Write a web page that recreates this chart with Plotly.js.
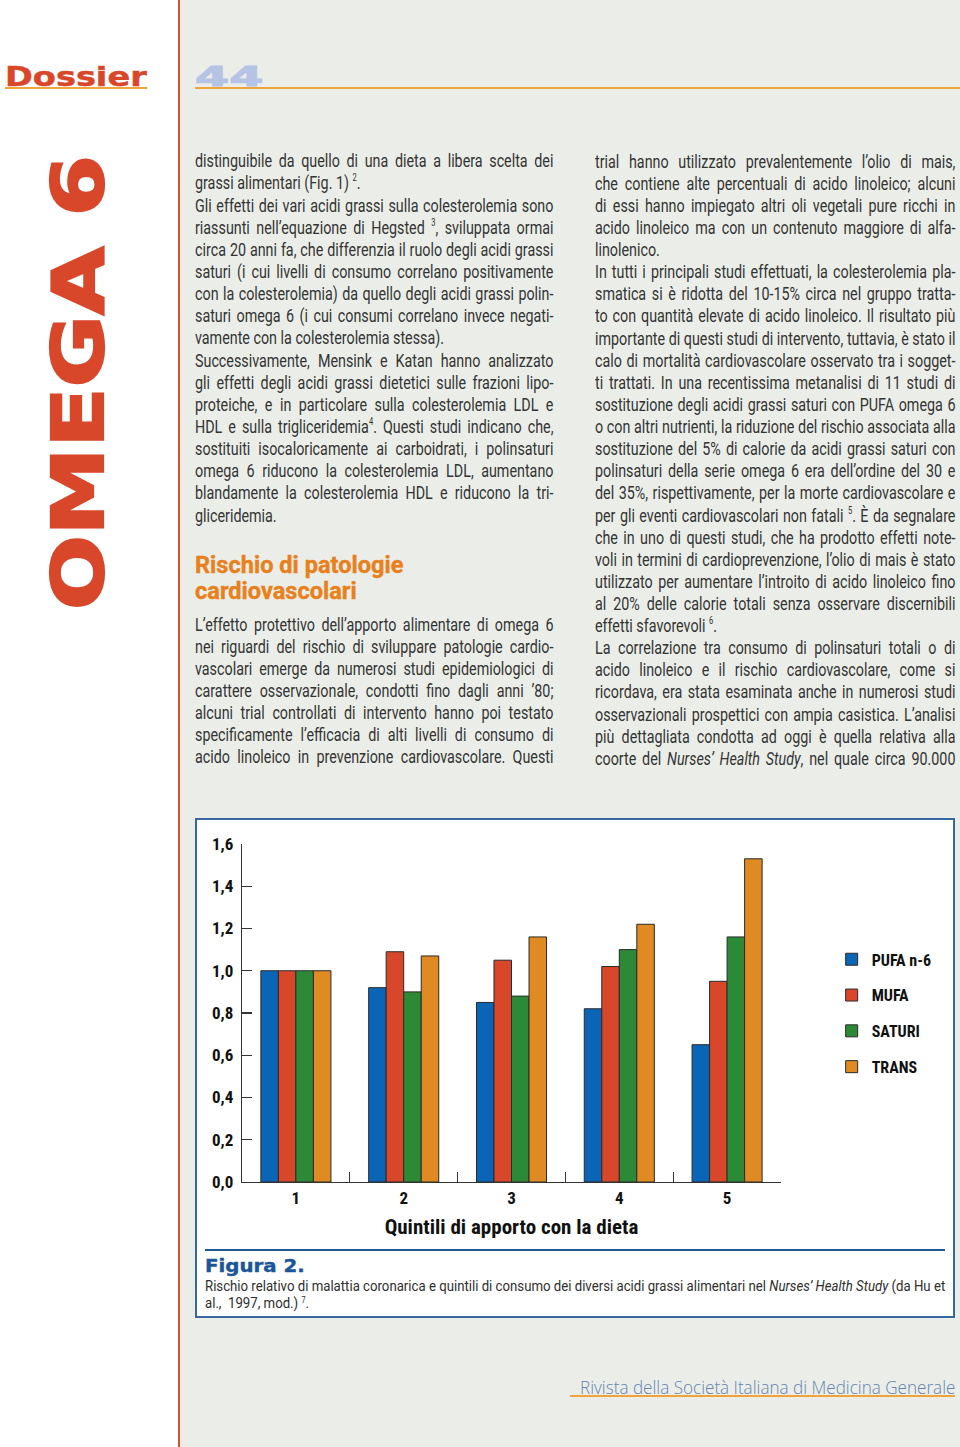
<!DOCTYPE html>
<html><head><meta charset="utf-8">
<script src="https://cdn.plot.ly/plotly-3.0.1.min.js"></script>
<style>
html,body{margin:0;padding:0;}
body{width:960px;height:1447px;position:relative;overflow:hidden;background:#fff;font-family:Roboto,"Liberation Sans",sans-serif;}
.abs{position:absolute;}
.t{position:absolute;left:0;top:0;white-space:nowrap;transform-origin:0 0;}
.body{font-family:Roboto,"Open Sans",sans-serif;font-weight:400;font-size:19px;line-height:20px;color:#333333;}
.cap{font-family:Roboto,"Open Sans",sans-serif;font-weight:400;font-size:15.5px;line-height:15px;color:#2e2e2e;}
sup{font-size:10px;vertical-align:baseline;position:relative;top:-8px;line-height:0;}
.cap sup{font-size:8.5px;top:-5px;}
</style>
</head>
<body>
<div class="abs" style="left:180px;top:0;width:780px;height:1447px;background:#ebeee8;"></div>
<div class="abs" style="left:178px;top:0;width:2px;height:1447px;background:#d6542f;"></div>
<div class="abs" style="left:5px;top:87px;width:142px;height:2px;background:#f0a33a;"></div>
<div class="abs" style="left:195px;top:87px;width:765px;height:2px;background:#f0a33a;"></div>
<div class="abs" style="left:570px;top:1395px;width:385px;height:2px;background:#f0a33a;"></div>
<div class="abs" style="left:195px;top:818px;width:760px;height:500px;border:2px solid #3567a0;box-sizing:border-box;background:#fff;"></div>
<div class="abs" style="left:205px;top:1248px;width:740px;height:3px;background:#1f5a98;"></div>
<div id="chart" class="abs" style="left:197px;top:820px;width:756px;height:429px;"></div>
<script>
// ---- chart data ----
const categories = ['1', '2', '3', '4', '5'];
const pufaN6 = [1.00, 0.92, 0.85, 0.82, 0.65];
const mufa   = [1.00, 1.09, 1.05, 1.02, 0.95];
const saturi = [1.00, 0.90, 0.88, 1.10, 1.16];
const trans  = [1.00, 1.07, 1.16, 1.22, 1.53];
const seriesNames = ['PUFA n-6', 'MUFA', 'SATURI', 'TRANS'];
const seriesColors = ['#0b65b6', '#d8472a', '#2c8a36', '#e08a24'];
const yTickVals = [0, 0.2, 0.4, 0.6, 0.8, 1.0, 1.2, 1.4, 1.6];
const yTickText = ['0,0', '0,2', '0,4', '0,6', '0,8', '1,0', '1,2', '1,4', '1,6'];
const xTitle = 'Quintili di apporto con la dieta';

// ---- page text ----
const leftLines = [
 'distinguibile da quello di una dieta a libera scelta dei',
 'grassi alimentari (Fig. 1) <sup>2</sup>.¶',
 'Gli effetti dei vari acidi grassi sulla colesterolemia sono',
 'riassunti nell’equazione di Hegsted <sup>3</sup>, sviluppata ormai',
 'circa 20 anni fa, che differenzia il ruolo degli acidi grassi',
 'saturi (i cui livelli di consumo correlano positivamente',
 'con la colesterolemia) da quello degli acidi grassi polin-',
 'saturi omega 6 (i cui consumi correlano invece negati-',
 'vamente con la colesterolemia stessa).¶',
 'Successivamente, Mensink e Katan hanno analizzato',
 'gli effetti degli acidi grassi dietetici sulle frazioni lipo-',
 'proteiche, e in particolare sulla colesterolemia LDL e',
 'HDL e sulla trigliceridemia<sup>4</sup>. Questi studi indicano che,',
 'sostituiti isocaloricamente ai carboidrati, i polinsaturi',
 'omega 6 riducono la colesterolemia LDL, aumentano',
 'blandamente la colesterolemia HDL e riducono la tri-',
 'gliceridemia.¶'
];
const headingLines = ['Rischio di patologie', 'cardiovascolari'];
const left2Lines = [
 'L’effetto protettivo dell’apporto alimentare di omega 6',
 'nei riguardi del rischio di sviluppare patologie cardio-',
 'vascolari emerge da numerosi studi epidemiologici di',
 'carattere osservazionale, condotti fino dagli anni ’80;',
 'alcuni trial controllati di intervento hanno poi testato',
 'specificamente l’efficacia di alti livelli di consumo di',
 'acido linoleico in prevenzione cardiovascolare. Questi'
];
const rightLines = [
 'trial hanno utilizzato prevalentemente l’olio di mais,',
 'che contiene alte percentuali di acido linoleico; alcuni',
 'di essi hanno impiegato altri oli vegetali pure ricchi in',
 'acido linoleico ma con un contenuto maggiore di alfa-',
 'linolenico.¶',
 'In tutti i principali studi effettuati, la colesterolemia pla-',
 'smatica si è ridotta del 10-15% circa nel gruppo tratta-',
 'to con quantità elevate di acido linoleico. Il risultato più',
 'importante di questi studi di intervento, tuttavia, è stato il',
 'calo di mortalità cardiovascolare osservato tra i sogget-',
 'ti trattati. In una recentissima metanalisi di 11 studi di',
 'sostituzione degli acidi grassi saturi con PUFA omega 6',
 'o con altri nutrienti, la riduzione del rischio associata alla',
 'sostituzione del 5% di calorie da acidi grassi saturi con',
 'polinsaturi della serie omega 6 era dell’ordine del 30 e',
 'del 35%, rispettivamente, per la morte cardiovascolare e',
 'per gli eventi cardiovascolari non fatali <sup>5</sup>. È da segnalare',
 'che in uno di questi studi, che ha prodotto effetti note-',
 'voli in termini di cardioprevenzione, l’olio di mais è stato',
 'utilizzato per aumentare l’introito di acido linoleico fino',
 'al 20% delle calorie totali senza osservare discernibili',
 'effetti sfavorevoli <sup>6</sup>.¶',
 'La correlazione tra consumo di polinsaturi totali o di',
 'acido linoleico e il rischio cardiovascolare, come si',
 'ricordava, era stata esaminata anche in numerosi studi',
 'osservazionali prospettici con ampia casistica. L’analisi',
 'più dettagliata condotta ad oggi è quella relativa alla',
 'coorte del <i>Nurses’ Health Study</i>, nel quale circa 90.000'
];
const captionTitle = 'Figura 2.';
const captionLines = [
 'Rischio relativo di malattia coronarica e quintili di consumo dei diversi acidi grassi alimentari nel <i>Nurses’ Health Study</i> (da Hu et',
 'al.,&nbsp; 1997, mod.) <sup>7</sup>.'
];
const footerText = 'Rivista della Società Italiana di Medicina Generale';

// ---- helpers ----
function mk(html, cls, css) {
  const d = document.createElement('div');
  d.className = 't ' + (cls || '');
  if (css) d.style.cssText += css;
  d.innerHTML = '<span style="display:inline-block;width:0;height:0;"></span>' + html;
  document.body.appendChild(d);
  d._b = d.firstChild.offsetTop;
  d.removeChild(d.firstChild);
  d._w = d.offsetWidth;
  return d;
}
function placeFit(d, x, base, w) {
  d.style.left = x + 'px';
  d.style.top = (base - d._b) + 'px';
  if (w) d.style.transform = 'scaleX(' + (w / d._w) + ')';
}

// body columns
const cols = [
  {lines: leftLines, x: 195, w: 358, b0: 167.2, dy: 22.15},
  {lines: left2Lines, x: 195, w: 358, b0: 630.8, dy: 22.0},
  {lines: rightLines, x: 595, w: 360, b0: 167.6, dy: 22.12}
];
let s = 1;
const made = [];
cols.forEach(c => c.lines.forEach((ln, i) => {
  const end = ln.endsWith('¶');
  const d = mk(end ? ln.slice(0, -1) : ln, 'body');
  made.push({d, c, i, end});
  if (!end) s = Math.min(s, c.w / d._w);
}));
made.forEach(m => {
  const {d, c, i, end} = m;
  d.style.left = c.x + 'px';
  d.style.top = (c.b0 + c.dy * i - d._b) + 'px';
  d.style.transform = 'scaleX(' + s + ')';
  if (!end) {
    d.style.whiteSpace = 'normal';
    d.style.width = (c.w / s + 0.6) + 'px';
    d.style.textAlign = 'justify';
    d.style.textAlignLast = 'justify';
  }
});

// heading
const hCss = 'font-family:Roboto,sans-serif;font-weight:700;font-size:23px;line-height:24px;color:#e8811d;-webkit-text-stroke:0.4px #e8811d;';
const h1 = mk(headingLines[0], '', hCss);
const hs = 208 / h1._w;
placeFit(h1, 195, 573, 208);
const h2 = mk(headingLines[1], '', hCss);
placeFit(h2, 195, 599, h2._w * hs);

// header logos
const dos = mk('Dossier', '', 'font-family:"DejaVu Sans",sans-serif;font-weight:700;font-size:26px;line-height:28px;color:#d9472b;-webkit-text-stroke:0.45px #d9472b;');
placeFit(dos, 5, 85.5, 142);
const n44 = mk('44', '', 'font-family:"DejaVu Sans",sans-serif;font-weight:700;font-size:26px;line-height:28px;color:#b5c3e5;-webkit-text-stroke:1px #b5c3e5;');
placeFit(n44, 195, 85.5, 68);

// vertical OMEGA 6
const om = mk('OMEGA 6', '', 'font-family:"DejaVu Sans",sans-serif;font-weight:700;font-size:72px;line-height:76px;color:#d9472b;-webkit-text-stroke:2.2px #d9472b;');
om.style.transform = 'translate(' + (103 - om._b) + 'px,610px) rotate(-90deg) scale(' + (455 / om._w) + ',1)';

// caption
const fig = mk(captionTitle, '', 'font-family:"DejaVu Sans",sans-serif;font-weight:700;font-size:17px;line-height:16px;color:#1d5698;-webkit-text-stroke:0.4px #1d5698;');
placeFit(fig, 205, 1272, 100);
const c1 = mk(captionLines[0], 'cap');
const cs = 740 / c1._w;
placeFit(c1, 205, 1291, 740);
const c2 = mk(captionLines[1], 'cap');
placeFit(c2, 205, 1307.5, c2._w * cs);

// footer
const ft = mk(footerText, '', 'font-family:"Open Sans",Lato,sans-serif;font-weight:300;font-size:18px;line-height:20px;color:#6683b0;');
placeFit(ft, 580, 1393.5, 375);

// ---- chart ----
const chartFont = '"Liberation Sans Narrow","Roboto Condensed","DejaVu Sans Condensed",Roboto,sans-serif';
const seriesData = [pufaN6, mufa, saturi, trans];
const traces = seriesData.map((vals, k) => ({
  type: 'bar',
  x: categories,
  y: vals,
  name: seriesNames[k],
  legendgroup: 'g' + k,
  marker: {color: seriesColors[k], line: {color: '#2a2a2a', width: 1}},
  hoverinfo: 'skip'
}));
const axFont = {family: chartFont, size: 17, color: '#111', weight: 'bold'};
const layout = {
  width: 756, height: 429,
  margin: {l: 45, r: 172, t: 24, b: 67},
  paper_bgcolor: '#ffffff', plot_bgcolor: '#ffffff',
  barmode: 'group', bargap: 0.35, bargroupgap: 0,
  separators: ',.',
  showlegend: true,
  legend: {x: 1.094, xanchor: 'left', y: 0.709, yanchor: 'top',
           font: {family: chartFont, size: 16, color: '#111', weight: 'bold'},
           tracegroupgap: 12, bgcolor: 'rgba(0,0,0,0)', traceorder: 'grouped'},
  xaxis: {type: 'category', range: [-0.5, 4.5], showline: true, linecolor: '#333', linewidth: 1.3,
          ticks: 'inside', tickson: 'boundaries', ticklen: 10, tickwidth: 1.3, tickcolor: '#333',
          showgrid: false, zeroline: false, tickfont: axFont,
          title: {text: xTitle, font: {family: chartFont, size: 21, color: '#111', weight: 'bold'}, standoff: 12},
          automargin: false, fixedrange: true},
  yaxis: {range: [0, 1.6], showline: true, linecolor: '#333', linewidth: 1.3,
          ticks: 'inside', ticklen: 10, tickwidth: 1.3, tickcolor: '#333',
          tickmode: 'array', tickvals: yTickVals, ticktext: yTickText,
          showgrid: false, zeroline: false, tickfont: axFont, ticklabelstandoff: 4,
          automargin: false, fixedrange: true}
};
Plotly.newPlot('chart', traces, layout, {displayModeBar: false, staticPlot: true});
</script>
</body></html>
